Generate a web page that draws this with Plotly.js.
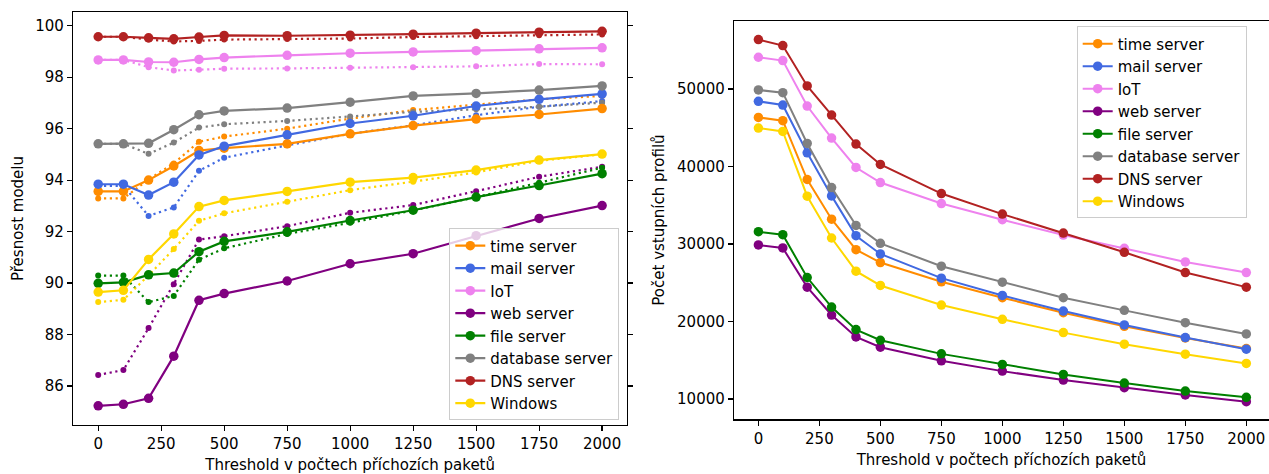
<!DOCTYPE html>
<html>
<head>
<meta charset="utf-8">
<script src="https://cdn.plot.ly/plotly-3.0.1.min.js"></script>
<style>html,body{margin:0;padding:0;background:#fff;}#chart{width:1269px;height:474px;}</style>
</head>
<body>
<div id="chart"></div>
<script>
// Threshold values (x categories)
const thresholds = [0, 100, 200, 300, 400, 500, 750, 1000, 1250, 1500, 1750, 2000];

// Series names and colours
const seriesNames = ["time server", "mail server", "IoT", "web server", "file server", "database server", "DNS server", "Windows"];
const seriesColors = ["#FF8C00", "#4169E1", "#EE82EE", "#800080", "#008000", "#808080", "#B22222", "#FFD700"];

// Left chart: model accuracy (solid lines)
const accTime    = [93.56, 93.56, 94.00, 94.55, 95.15, 95.24, 95.41, 95.80, 96.12, 96.37, 96.55, 96.78];
const accMail    = [93.84, 93.84, 93.42, 93.92, 94.98, 95.32, 95.76, 96.20, 96.50, 96.88, 97.14, 97.35];
const accIoT     = [98.67, 98.67, 98.59, 98.58, 98.69, 98.76, 98.85, 98.93, 98.98, 99.03, 99.10, 99.14];
const accWeb     = [85.23, 85.29, 85.52, 87.16, 89.33, 89.59, 90.08, 90.75, 91.14, 91.84, 92.51, 93.01];
const accFile    = [89.99, 90.03, 90.32, 90.39, 91.22, 91.62, 91.99, 92.43, 92.83, 93.34, 93.79, 94.25];
const accDb      = [95.41, 95.41, 95.43, 95.96, 96.54, 96.69, 96.80, 97.03, 97.27, 97.37, 97.50, 97.66];
const accDns     = [99.57, 99.57, 99.53, 99.49, 99.56, 99.62, 99.61, 99.63, 99.67, 99.71, 99.75, 99.78];
const accWindows = [89.65, 89.72, 90.92, 91.91, 92.97, 93.21, 93.56, 93.92, 94.10, 94.39, 94.78, 95.01];

// Left chart: model accuracy (dotted lines)
const accTimeDot    = [93.29, 93.29, 94.03, 94.65, 95.49, 95.69, 96.00, 96.39, 96.72, 96.92, 97.14, 97.27];
const accMailDot    = [93.78, 93.78, 92.61, 92.94, 94.36, 94.87, 95.35, 95.80, 96.13, 96.52, 96.85, 97.07];
const accIoTDot     = [98.67, 98.67, 98.39, 98.26, 98.29, 98.33, 98.34, 98.37, 98.39, 98.42, 98.51, 98.50];
const accWebDot     = [86.43, 86.62, 88.25, 89.95, 91.69, 91.82, 92.21, 92.73, 93.03, 93.57, 94.13, 94.52];
const accFileDot    = [90.29, 90.29, 89.26, 89.50, 90.91, 91.35, 91.91, 92.34, 92.82, 93.34, 93.90, 94.48];
const accDbDot      = [95.41, 95.41, 95.02, 95.46, 96.04, 96.17, 96.30, 96.47, 96.65, 96.75, 96.85, 97.01];
const accDnsDot     = [99.57, 99.57, 99.46, 99.39, 99.41, 99.46, 99.48, 99.50, 99.56, 99.59, 99.63, 99.66];
const accWindowsDot = [89.26, 89.35, 90.30, 91.32, 92.42, 92.71, 93.16, 93.61, 93.94, 94.30, 94.75, 95.00];

// Right chart: number of input profiles
const profTime    = [46336, 45905, 38319, 33200, 29272, 27602, 25118, 23062, 21135, 19379, 17880, 16510];
const profMail    = [48405, 47931, 41767, 36207, 31071, 28715, 25589, 23362, 21349, 19550, 17923, 16424];
const profIoT     = [54095, 53664, 47802, 43664, 39871, 37931, 35220, 33126, 31156, 29443, 27687, 26317];
const profWeb     = [29872, 29486, 24433, 20835, 18009, 16681, 14925, 13597, 12441, 11456, 10514, 9657];
const profFile    = [31585, 31199, 25675, 21863, 18951, 17580, 15824, 14454, 13169, 12056, 11028, 10214];
const profDb      = [49871, 49526, 42974, 37284, 32398, 30086, 27131, 25075, 23062, 21435, 19850, 18394];
const profDns     = [56379, 55603, 50388, 46638, 42888, 40259, 36509, 33854, 31413, 28929, 26317, 24433];
const profWindows = [44957, 44526, 36164, 30771, 26488, 24647, 22120, 20278, 18565, 17066, 15782, 14582];

// Tick values
const xTicks = [0, 250, 500, 750, 1000, 1250, 1500, 1750, 2000];
const yTicksAcc = [86, 88, 90, 92, 94, 96, 98, 100];
const yTicksProf = [10000, 20000, 30000, 40000, 50000];

const accSolid = [accTime, accMail, accIoT, accWeb, accFile, accDb, accDns, accWindows];
const accDot = [accTimeDot, accMailDot, accIoTDot, accWebDot, accFileDot, accDbDot, accDnsDot, accWindowsDot];
const prof = [profTime, profMail, profIoT, profWeb, profFile, profDb, profDns, profWindows];

const traces = [];
// dotted first (drawn below)
for (let i = 0; i < seriesNames.length; i++) {
  traces.push({
    x: thresholds, y: accDot[i], xaxis: 'x', yaxis: 'y', mode: 'lines+markers',
    name: seriesNames[i], showlegend: false,
    line: {color: seriesColors[i], width: 2.2, dash: '2.2px,3.6px'},
    marker: {color: seriesColors[i], size: 6}
  });
}
for (let i = 0; i < seriesNames.length; i++) {
  traces.push({
    x: thresholds, y: accSolid[i], xaxis: 'x', yaxis: 'y', mode: 'lines+markers',
    name: seriesNames[i], legend: 'legend',
    line: {color: seriesColors[i], width: 2.2},
    marker: {color: seriesColors[i], size: 9.5}
  });
}
for (let i = 0; i < seriesNames.length; i++) {
  traces.push({
    x: thresholds, y: prof[i], xaxis: 'x2', yaxis: 'y2', mode: 'lines+markers',
    name: seriesNames[i], legend: 'legend2',
    line: {color: seriesColors[i], width: 2},
    marker: {color: seriesColors[i], size: 9.5}
  });
}

const font = {family: 'DejaVu Sans', size: 15, color: '#000'};
const axisCommon = {
  showgrid: false, zeroline: false, showline: true, linecolor: '#000', linewidth: 1.2,
  ticks: 'outside', ticklen: 5, tickwidth: 1.2, tickcolor: '#000',
  tickfont: font
};

const layout = {
  width: 1269, height: 474,
  margin: {l: 73, r: 0, t: 12, b: 49},
  paper_bgcolor: '#fff', plot_bgcolor: '#fff',
  font: font,
  showlegend: true,
  xaxis: Object.assign({}, axisCommon, {
    domain: [0, 0.46346], range: [-100, 2100], tickvals: xTicks, mirror: true,
    title: {text: 'Threshold v počtech příchozích paketů', font: font, standoff: 8}
  }),
  yaxis: Object.assign({}, axisCommon, {
    domain: [0, 1], range: [84.485, 100.532], tickvals: yTicksAcc, mirror: 'ticks',
    title: {text: 'Přesnost modelu', font: font, standoff: 8}
  }),
  xaxis2: Object.assign({}, axisCommon, {
    domain: [0.55268, 1], range: [-100, 2093], tickvals: xTicks, mirror: true, anchor: 'y2',
    title: {text: 'Threshold v počtech příchozích paketů', font: font, standoff: 8}
  }),
  yaxis2: Object.assign({}, axisCommon, {
    domain: [0.0138, 0.97893], range: [7380, 58810], tickvals: yTicksProf, anchor: 'x2',
    tickformat: 'd',
    title: {text: 'Počet vstupních profilů', font: font, standoff: 8}
  }),
  legend: {
    x: 0.45677, y: 0.011, xanchor: 'right', yanchor: 'bottom',
    bgcolor: 'rgba(255,255,255,0.8)', bordercolor: '#cccccc', borderwidth: 1,
    font: font, itemwidth: 30
  },
  legend2: {
    x: 0.98135, y: 0.965, xanchor: 'right', yanchor: 'top',
    bgcolor: 'rgba(255,255,255,0.8)', bordercolor: '#cccccc', borderwidth: 1,
    font: font, itemwidth: 30
  }
};

Plotly.newPlot('chart', traces, layout, {displayModeBar: false, staticPlot: true});
</script>
</body>
</html>
